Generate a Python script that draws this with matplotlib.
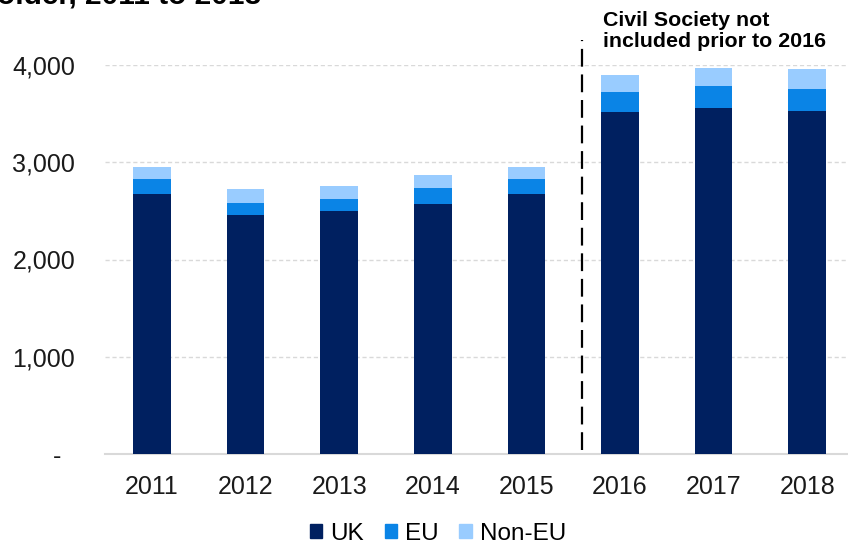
import numpy as np
import matplotlib
matplotlib.use('Agg')
import matplotlib.pyplot as plt
from matplotlib.patches import Patch

plt.rcParams['font.family'] = ['Liberation Sans', 'DejaVu Sans']

# dados
anos = ['2011', '2012', '2013', '2014', '2015', '2016', '2017', '2018']
uk = [2672, 2460, 2500, 2573, 2672, 3518, 3553, 3528]
eu = [154, 123, 120, 158, 154, 205, 232, 230]
non_eu = [126, 137, 135, 136, 126, 172, 185, 199]
yticks = [0, 1000, 2000, 3000, 4000]
ytick_labels = ['-  ', '1,000', '2,000', '3,000', '4,000']

cor_uk = '#002060'
cor_eu = '#0A84E6'
cor_noneu = '#99CCFF'

fig = plt.figure(figsize=(8.48, 5.47), dpi=100)
ax = fig.add_axes([105.2 / 848, 1 - 454 / 547, 748.8 / 848, (454 - 65) / 547])

x = np.arange(len(anos))
uk_a = np.array(uk)
eu_a = np.array(eu)
ax.bar(x, uk, width=0.4, color=cor_uk, zorder=3)
ax.bar(x, eu, width=0.4, bottom=uk_a, color=cor_eu, zorder=3)
ax.bar(x, non_eu, width=0.4, bottom=uk_a + eu_a, color=cor_noneu, zorder=3)

ax.set_xlim(-0.5, 7.5)
ax.set_ylim(0, 4000)
ax.set_xticks(x)
ax.set_xticklabels(anos)
ax.set_yticks(yticks)
ax.set_yticklabels(ytick_labels)
ax.tick_params(axis='both', length=0, labelsize=18, colors='#1a1a1a')
ax.tick_params(axis='y', pad=21.5)
ax.tick_params(axis='x', pad=15)

for s in ['top', 'right', 'left']:
    ax.spines[s].set_visible(False)
ax.spines['bottom'].set_color('#d9d9d9')
ax.spines['bottom'].set_linewidth(1.5)
ax.yaxis.grid(True, color='#d9d9d9', linestyle=(0, (3, 2)), linewidth=1)
ax.set_axisbelow(True)

# linha tracejada separando 2016
ax.plot([4.59, 4.59], [40, 4255], color='black', linestyle=(0, (8, 3.5)),
        linewidth=1.6, clip_on=False, zorder=4)
ax.text(4.816, 4560, 'Civil Society not\nincluded prior to 2016', fontsize=15.4,
        fontweight='bold', ha='left', va='top', linespacing=1.17)

# título cortado no topo
fig.text(-3 / 848, 1 - 4 / 547, 'older, 2011 to 2018', fontsize=21.5,
         fontweight='bold', ha='left', va='baseline')

handles = [Patch(color=cor_uk), Patch(color=cor_eu), Patch(color=cor_noneu)]
fig.legend(handles, ['UK', 'EU', 'Non-EU'], loc='center', ncol=3,
           bbox_to_anchor=(438 / 848, 1 - 534 / 547), frameon=False, fontsize=17.5,
           handlelength=0.5, handleheight=0.5, handletextpad=0.35,
           columnspacing=0.85, borderpad=0)

fig.savefig('out.png', dpi=100)
